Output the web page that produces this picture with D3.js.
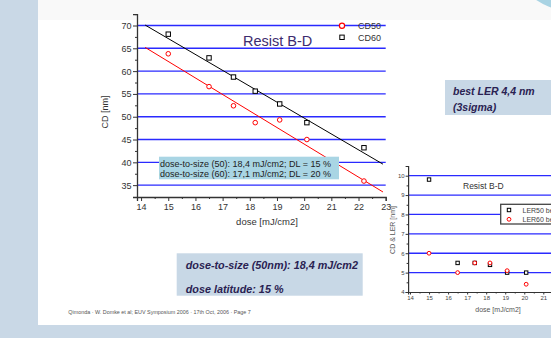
<!DOCTYPE html>
<html><head><meta charset="utf-8">
<script src="https://cdn.jsdelivr.net/npm/d3@7"></script>
<style>html,body{margin:0;padding:0;background:#fff;overflow:hidden}svg{display:block;font-family:Arial,"Liberation Sans",sans-serif}</style>
</head><body><svg id="c" width="551" height="338"></svg>
<script>
// ---- data ----
const dose = [15, 16.5, 17.4, 18.2, 19.1, 20.1, 22.2];
const cd50 = [63.8, 56.6, 52.4, 48.7, 49.3, 45.0, 35.9];
const cd60 = [68.1, 62.9, 58.7, 55.6, 52.8, 48.7, 43.2];
const fitDose = [14.15, 22.9];
const fit50 = [65.2, 33.5];
const fit60 = [70.1, 39.6];
const cdTicks = [35, 40, 45, 50, 55, 60, 65, 70];
const doseTicks = [14, 15, 16, 17, 18, 19, 20, 21, 22, 23];
const seriesNames = ["CD50", "CD60"];
const noteLines = ["dose-to-size (50): 18,4 mJ/cm2; DL = 15 %", "dose-to-size (60): 17,1 mJ/cm2; DL = 20 %"];

const lerDose = [15, 16.5, 17.4, 18.2, 19.1, 20.1];
const ler50 = [9.8, 5.5, 5.5, 5.4, 5.0, 5.0];
const ler60 = [6.0, 5.0, 5.5, 5.5, 5.1, 4.4];
const lerTicks = [4, 5, 6, 7, 8, 9, 10];
const lerGrid = [5, 6, 7, 8, 9, 10];
const lerDoseTicks = [14, 15, 16, 17, 18, 19, 20, 21];
const lerNames = ["LER50 best focus", "LER60 best focus"];

const svg = d3.select("#c");
const band = "#c9d8e6";

// ---- slide background ----
svg.append("rect").attr("x",0).attr("y",0).attr("width",551).attr("height",338).attr("fill","#fff");
svg.append("rect").attr("x",38).attr("y",0).attr("width",513).attr("height",20).attr("fill","#f9f9f9");
svg.append("circle").attr("cx",576).attr("cy",-60).attr("r",72).attr("fill","#a9d3e3");
svg.append("rect").attr("x",0).attr("y",0).attr("width",38).attr("height",338).attr("fill",band);
svg.append("rect").attr("x",0).attr("y",325).attr("width",551).attr("height",13).attr("fill",band);

// ---- main chart ----
const x = d3.scaleLinear().domain([13.85, 23]).range([137, 385.7]);
const y = d3.scaleLinear().domain([32.4, 72.5]).range([197, 14.1]);
const g = svg.append("g");

g.selectAll("line.grid").data(cdTicks).enter().append("line")
  .attr("x1", x(13.85)).attr("x2", x(23)).attr("y1", d=>y(d)).attr("y2", d=>y(d))
  .attr("stroke","#2a2aff").attr("stroke-width",1.4);

const yAxis = d3.axisLeft(y).tickValues(cdTicks).tickSize(4).tickPadding(1.5);
g.append("g").attr("transform",`translate(${x(13.85)},0)`).call(yAxis);
const yMinor = d3.axisLeft(y).tickValues(d3.range(35,73,2.5).filter(v=>v%5!==0)).tickSize(2).tickFormat("");
g.append("g").attr("transform",`translate(${x(13.85)},0)`).call(yMinor).select(".domain").remove();
const xAxis = d3.axisBottom(x).tickValues(doseTicks).tickSize(4).tickPadding(2.5);
g.append("g").attr("transform",`translate(0,${y(32.4)})`).call(xAxis);
const xMinor = d3.axisBottom(x).tickValues(d3.range(14.5,23,1)).tickSize(2).tickFormat("");
g.append("g").attr("transform",`translate(0,${y(32.4)})`).call(xMinor).select(".domain").remove();
g.selectAll(".domain").attr("stroke","#333").attr("stroke-width",1.3);
g.selectAll(".tick line").attr("stroke","#333");
g.selectAll(".tick text").attr("font-size",9).attr("fill","#333").attr("font-family","Arial, 'Liberation Sans', sans-serif");

const line = d3.line().x(d=>x(d[0])).y(d=>y(d[1]));
g.append("path").attr("d", line(fitDose.map((d,i)=>[d,fit60[i]]))).attr("stroke","#000").attr("fill","none").attr("stroke-width",1);
g.append("path").attr("d", line(fitDose.map((d,i)=>[d,fit50[i]]))).attr("stroke","#f00").attr("fill","none").attr("stroke-width",1);

g.selectAll("circle.p50").data(dose.map((d,i)=>[d,cd50[i]])).enter().append("circle")
  .attr("cx",d=>x(d[0])).attr("cy",d=>y(d[1])).attr("r",2.3).attr("fill","#fff").attr("stroke","#f00").attr("stroke-width",1);
g.selectAll("rect.p60").data(dose.map((d,i)=>[d,cd60[i]])).enter().append("rect")
  .attr("x",d=>x(d[0])-2.2).attr("y",d=>y(d[1])-2.2).attr("width",4.4).attr("height",4.4).attr("fill","#fff").attr("stroke","#000").attr("stroke-width",1);

// legend
g.append("circle").attr("cx",342).attr("cy",25.7).attr("r",2.6).attr("fill","#fff").attr("stroke","#f00").attr("stroke-width",1.2);
g.append("rect").attr("x",339.8).attr("y",35.1).attr("width",4.4).attr("height",4.4).attr("fill","#fff").attr("stroke","#000").attr("stroke-width",1);
g.append("text").attr("x",358).attr("y",28.6).attr("font-size",9).attr("fill","#333").text(seriesNames[0]);
g.append("text").attr("x",358).attr("y",40.6).attr("font-size",9).attr("fill","#333").text(seriesNames[1]);

g.append("text").attr("x",243).attr("y",45.5).attr("font-size",14.5).attr("fill","#3d2b6e").text("Resist B-D");

// note box
g.append("rect").attr("x",159).attr("y",156.7).attr("width",180).attr("height",22.6).attr("fill","#a9d5e4");
noteLines.forEach((t,i)=>g.append("text").attr("x",160).attr("y",167.2+i*9.6).attr("font-size",9).attr("fill","#222").text(t));

g.append("text").attr("transform","translate(107.5,112) rotate(-90)").attr("text-anchor","middle").attr("font-size",9).attr("fill","#333").text("CD [nm]");
g.append("text").attr("x",267).attr("y",224.5).attr("text-anchor","middle").attr("font-size",9.5).attr("fill","#333").text("dose [mJ/cm2]");

// ---- second (partial) chart ----
const x2 = d3.scaleLinear().domain([13.9, 23]).range([408.1, 581.4]);
const y2 = d3.scaleLinear().domain([4, 10.5]).range([292, 166]);
const h = svg.append("g");
h.selectAll("line.grid").data(lerGrid).enter().append("line")
  .attr("x1", x2(13.9)).attr("x2", 551).attr("y1", d=>y2(d)).attr("y2", d=>y2(d))
  .attr("stroke","#2a2aff").attr("stroke-width",1.3);
h.append("g").attr("transform",`translate(${x2(13.9)},0)`).call(d3.axisLeft(y2).tickValues(lerTicks).tickFormat(d3.format("d")).tickSize(2.5).tickPadding(1));
h.append("g").attr("transform",`translate(${x2(13.9)},0)`).call(d3.axisLeft(y2).tickValues(d3.range(4.5,10.5,1)).tickSize(1.5).tickFormat("")).select(".domain").remove();
h.append("g").attr("transform",`translate(0,${y2(4)})`).call(d3.axisBottom(x2).tickValues(lerDoseTicks).tickFormat(d3.format("d")).tickSize(2.5).tickPadding(1.5));
h.append("g").attr("transform",`translate(0,${y2(4)})`).call(d3.axisBottom(x2).tickValues(d3.range(14.5,23,1)).tickSize(1.5).tickFormat("")).select(".domain").remove();
h.selectAll(".domain").attr("stroke","#333").attr("stroke-width",1.2);
h.selectAll(".tick line").attr("stroke","#333");
h.selectAll(".tick text").attr("font-size",6).attr("fill","#444").attr("font-family","Arial, 'Liberation Sans', sans-serif");

h.selectAll("rect.l50").data(lerDose.map((d,i)=>[d,ler50[i]])).enter().append("rect")
  .attr("x",d=>x2(d[0])-1.7).attr("y",d=>y2(d[1])-1.7).attr("width",3.4).attr("height",3.4).attr("fill","#fff").attr("stroke","#000").attr("stroke-width",1);
h.selectAll("circle.l60").data(lerDose.map((d,i)=>[d,ler60[i]])).enter().append("circle")
  .attr("cx",d=>x2(d[0])).attr("cy",d=>y2(d[1])).attr("r",1.9).attr("fill","#fff").attr("stroke","#f00").attr("stroke-width",1);

h.append("text").attr("x",463).attr("y",189).attr("font-size",8.5).attr("fill","#333").text("Resist B-D");
h.append("rect").attr("x",500.7).attr("y",204.3).attr("width",70).attr("height",19.7).attr("fill","#fff").attr("stroke","#444").attr("stroke-width",1.3);
h.append("rect").attr("x",507.3).attr("y",208.3).attr("width",3.4).attr("height",3.4).attr("fill","#fff").attr("stroke","#000").attr("stroke-width",1);
h.append("circle").attr("cx",509).attr("cy",219.3).attr("r",1.9).attr("fill","#fff").attr("stroke","#f00").attr("stroke-width",1);
h.append("text").attr("x",522.5).attr("y",212.7).attr("font-size",7).attr("fill","#444").text(lerNames[0]);
h.append("text").attr("x",522.5).attr("y",221.8).attr("font-size",7).attr("fill","#444").text(lerNames[1]);
h.append("text").attr("transform","translate(395,230) rotate(-90)").attr("text-anchor","middle").attr("font-size",7).attr("fill","#555").text("CD & LER [nm]");
h.append("text").attr("x",498).attr("y",311.5).attr("text-anchor","middle").attr("font-size",7).attr("fill","#555").text("dose [mJ/cm2]");

// ---- slide text boxes ----
svg.append("rect").attr("x",445).attr("y",80).attr("width",106).attr("height",35).attr("fill","#c8d8e6");
svg.append("text").attr("x",453).attr("y",95).attr("font-size",10.5).attr("font-weight","bold").attr("font-style","italic").attr("fill","#2a2252").text("best LER 4,4 nm");
svg.append("text").attr("x",453).attr("y",111).attr("font-size",10.5).attr("font-weight","bold").attr("font-style","italic").attr("fill","#2a2252").text("(3sigma)");

svg.append("rect").attr("x",176.7).attr("y",253.3).attr("width",186).attr("height",42.4).attr("fill","#c8d8e6");
svg.append("text").attr("x",185.7).attr("y",268.5).attr("font-size",10.8).attr("font-weight","bold").attr("font-style","italic").attr("fill","#2a2252").text("dose-to-size (50nm): 18,4 mJ/cm2");
svg.append("text").attr("x",185.7).attr("y",293).attr("font-size",10.8).attr("font-weight","bold").attr("font-style","italic").attr("fill","#2a2252").text("dose latitude: 15 %");

svg.append("text").attr("x",68.3).attr("y",314).attr("font-size",5.4).attr("fill","#555").text("Qimonda · W. Domke et al; EUV Symposium 2006 · 17th Oct, 2006 · Page 7");
</script></body></html>
